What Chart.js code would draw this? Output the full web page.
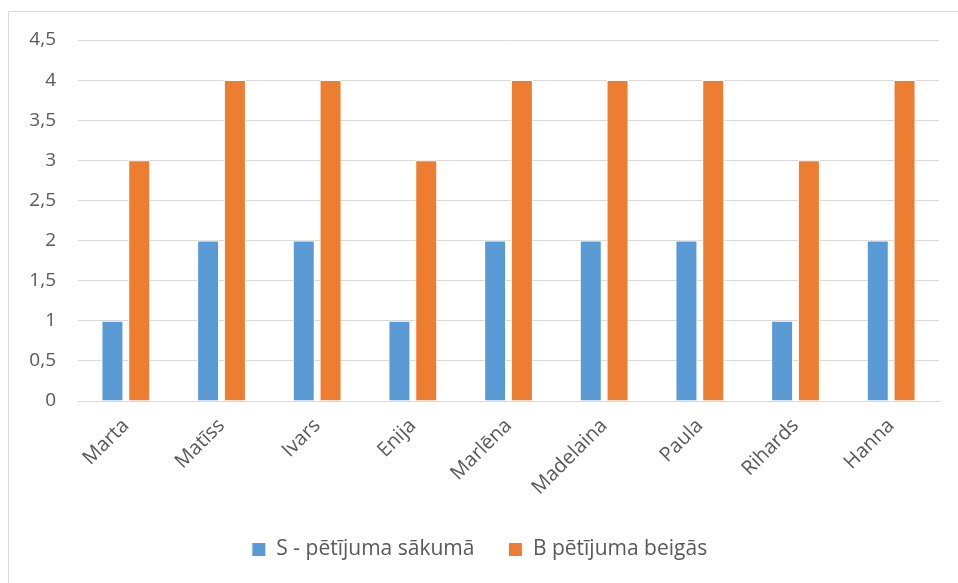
<!DOCTYPE html>
<html>
<head>
<meta charset="utf-8">
<script src="https://cdn.jsdelivr.net/npm/chart.js@4"></script>
<style>
  html, body { margin: 0; padding: 0; background: #fff; }
  #frame { position: absolute; left: 8px; top: 11px; width: 970px; height: 600px; border: 1px solid #d9d9d9; }
  #wrap { position: absolute; left: 0; top: 0; width: 958px; height: 583px; }
</style>
</head>
<body>
<div id="frame"></div>
<div id="wrap"><canvas id="myChart"></canvas></div>
<script>
var names = ['Marta', 'Matīss', 'Ivars', 'Enija', 'Marlēna', 'Madelaina', 'Paula', 'Rihards', 'Hanna'];
var startValues = [1, 2, 2, 1, 2, 2, 2, 1, 2];
var endValues = [3, 4, 4, 3, 4, 4, 4, 3, 4];
var yTicks = [0, 0.5, 1, 1.5, 2, 2.5, 3, 3.5, 4, 4.5];

var textColor = '#595959';
var gridColor = '#d9d9d9';
var yFont = { family: 'Open Sans', size: 19 };
var xFont = { family: 'Open Sans', size: 20 };
var legendFont = { family: 'Open Sans', size: 21 };

var ctx = document.getElementById('myChart').getContext('2d');
var chart = new Chart(ctx, {
    type: 'bar',
    data: {
        labels: names,
        datasets: [{
            label: 'S - pētījuma sākumā',
            backgroundColor: '#5b9bd5',
            borderColor: '#ffffff',
            borderWidth: 1,
            data: startValues
        }, {
            label: 'B pētījuma beigās',
            backgroundColor: '#ed7d31',
            borderColor: '#ffffff',
            borderWidth: 1,
            data: endValues
        }]
    },
    options: {
        responsive: true,
        maintainAspectRatio: false,
        animation: false,
        categoryPercentage: 0.56,
        barPercentage: 0.82,
        layout: { padding: { left: 20, right: 19, top: 40, bottom: 13 } },
        plugins: {
            tooltip: { enabled: false },
            legend: {
                position: 'bottom',
                labels: {
                    color: textColor,
                    font: legendFont,
                    boxWidth: 14,
                    boxHeight: 14,
                    padding: 34
                }
            }
        },
        scales: {
            x: {
                grid: { display: false },
                border: { display: true, color: gridColor },
                ticks: {
                    color: textColor,
                    font: xFont,
                    maxRotation: 45,
                    minRotation: 45,
                    padding: 5
                },
                afterFit: function (scale) { scale.height = 104; }
            },
            y: {
                min: 0,
                max: 4.5,
                afterBuildTicks: function (scale) {
                    scale.ticks = yTicks.map(function (v) { return { value: v }; });
                },
                grid: { color: gridColor, drawTicks: false },
                border: { display: false },
                ticks: {
                    color: textColor,
                    font: yFont,
                    padding: 22,
                    callback: function (v) { return String(v).replace('.', ','); }
                },
                afterFit: function (scale) { scale.width = 58; }
            }
        }
    }
});
</script>
</body>
</html>
